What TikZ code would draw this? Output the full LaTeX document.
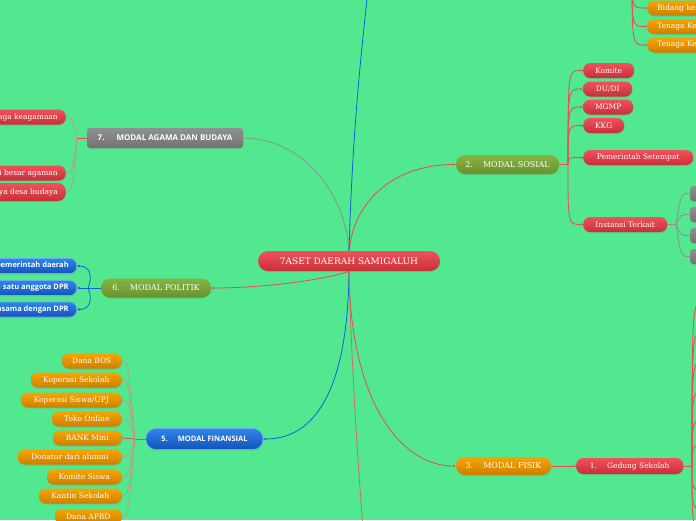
\documentclass[tikz,border=0pt]{standalone}
\usepackage{fontspec}
\setmainfont{DejaVu Serif}
\newfontfamily\osans{Open Sans}
\usetikzlibrary{shadows,arrows.meta}
\definecolor{bg}{HTML}{52E88F}
\definecolor{redT}{HTML}{F2525A}
\definecolor{redB}{HTML}{C62F37}
\definecolor{orT}{HTML}{F7A400}
\definecolor{orB}{HTML}{CC7F00}
\definecolor{grT}{HTML}{88B445}
\definecolor{grB}{HTML}{66922C}
\definecolor{blT}{HTML}{2F86EA}
\definecolor{blB}{HTML}{1152BC}
\definecolor{gyT}{HTML}{909090}
\definecolor{gyB}{HTML}{727272}
\definecolor{lnRed}{HTML}{F04850}
\definecolor{lnBlue}{HTML}{1060E0}
\definecolor{lnGray}{HTML}{909090}
\definecolor{lnTan}{HTML}{C8967A}
\definecolor{lnMix}{HTML}{D46A62}
\tikzset{
  box/.style={rounded corners=7pt, minimum height=15pt, inner xsep=8pt, inner ysep=0pt,
    text=white, font=\fontsize{7.5}{9}\selectfont,
    drop shadow={opacity=0.25, shadow xshift=0.4pt, shadow yshift=-1pt}},
  bigbox/.style={box, rounded corners=9pt, minimum height=19pt, font=\fontsize{8}{10}\selectfont},
  redbox/.style={top color=redT, bottom color=redB},
  orbox/.style={top color=orT, bottom color=orB},
  grbox/.style={top color=grT, bottom color=grB},
  blbox/.style={top color=blT, bottom color=blB, draw=blT!70!white, line width=0.6pt},
  gybox/.style={top color=gyT, bottom color=gyB},
  sansb/.style={font=\osans\bfseries\fontsize{7.5}{9}\selectfont},
  redline/.style={draw=lnRed, line width=0.8pt},
  blueline/.style={draw=lnBlue, line width=0.8pt},
  grayline/.style={draw=lnGray, line width=0.8pt},
  tanline/.style={draw=lnTan, line width=0.7pt},
  tip/.style={-{Latex[length=2.5pt,width=2.5pt]}},
}
\begin{document}
\begin{tikzpicture}[x=1pt,y=-1pt]
\useasboundingbox (0,0) rectangle (696,520);
\fill[bg] (0,0) rectangle (696,520);
\begin{scope}
\clip (0,0) rectangle (696,520);

% ---------- central node
\node[bigbox, redbox, minimum width=182pt, minimum height=20pt, rounded corners=10pt, font=\fontsize{9}{11}\selectfont] (c) at (349,261) {7ASET DAERAH SAMIGALUH};

% ---------- main branches
\node[bigbox, grbox, minimum width=103pt] (m2) at (507.5,164.5) {2.\hspace{10pt}MODAL SOSIAL};
\node[bigbox, orbox, minimum width=95pt, minimum height=18pt] (m3) at (503.5,466) {3.\hspace{10pt}MODAL FISIK};
\node[bigbox, blbox, sansb, minimum width=117pt, minimum height=21pt, rounded corners=10pt] (m5) at (204.5,439) {5.\hspace{10pt}MODAL FINANSIAL};
\node[bigbox, grbox, minimum width=110pt] (m6) at (156,288) {6.\hspace{10pt}MODAL POLITIK};
\node[bigbox, gybox, sansb, font=\osans\bfseries\fontsize{8}{10}\selectfont, minimum width=156pt, minimum height=20pt, rounded corners=3pt] (m7) at (165,138) {7.\hspace{12pt}MODAL AGAMA DAN BUDAYA};

% ---------- MODAL SOSIAL children
\node[box, redbox, anchor=west, minimum width=51pt] (s1) at (583,70.5) {Komite};
\node[box, redbox, anchor=west, minimum width=49pt] (s2) at (583,89) {DU/DI};
\node[box, redbox, anchor=west, minimum width=50pt] (s3) at (583,107) {MGMP};
\node[box, redbox, anchor=west, minimum width=41pt] (s4) at (583,125.5) {KKG};
\node[box, redbox, anchor=west, minimum width=110pt] (s5) at (583,157.5) {Pemerintah Setempat};
\node[box, redbox, anchor=west, minimum width=84pt] (s6) at (583,224.5) {Instansi Terkait};

% ---------- top right orange
\node[box, orbox, anchor=west, inner xsep=10pt] (t1) at (647,8) {Bidang kesehatan};
\node[box, orbox, anchor=west, inner xsep=10pt] (t2) at (647,26.5) {Tenaga Kesehatan};
\node[box, orbox, anchor=west, inner xsep=10pt] (t3) at (647,45) {Tenaga Kerja};

% ---------- Instansi Terkait gray children
\node[box, gybox, anchor=west, minimum width=30pt, rounded corners=3pt] (g1) at (690,193.5) {};
\node[box, gybox, anchor=west, minimum width=30pt, rounded corners=3pt] (g2) at (690,214.5) {};
\node[box, gybox, anchor=west, minimum width=30pt, rounded corners=3pt] (g3) at (690,235.5) {};
\node[box, gybox, anchor=west, minimum width=30pt, rounded corners=3pt] (g4) at (690,256.5) {};

% ---------- MODAL FISIK child
\node[box, redbox, anchor=west, minimum width=107pt, minimum height=16pt] (f1) at (576,466) {1.\hspace{10pt}Gedung Sekolah};

% ---------- MODAL FINANSIAL children
\node[box, orbox, anchor=east, minimum width=60pt] (k1) at (122,361) {Dana BOS};
\node[box, orbox, anchor=east, minimum width=91pt] (k2) at (122,380) {Koperasi Sekolah};
\node[box, orbox, anchor=east, minimum width=101pt] (k3) at (122,400) {Koperasi Siswa/UPJ};
\node[box, orbox, anchor=east, minimum width=70pt] (k4) at (122,419) {Toko Online};
\node[box, orbox, anchor=east, minimum width=69pt] (k5) at (122,438) {BANK Mini};
\node[box, orbox, anchor=east, minimum width=104pt] (k6) at (122,457) {Donatur dari alumni};
\node[box, orbox, anchor=east, minimum width=75pt] (k7) at (122,477) {Komite Siswa};
\node[box, orbox, anchor=east, minimum width=83pt] (k8) at (122,496) {Kantin Sekolah};
\node[box, orbox, anchor=east, minimum width=67pt] (k9) at (122,516.5) {Dana APBD};

% ---------- MODAL POLITIK children
\node[box, blbox, sansb, anchor=east] (p1) at (77,266) {Dukungan pemerintah daerah};
\node[box, blbox, sansb, anchor=east] (p2) at (77,288) {Salah satu anggota DPR};
\node[box, blbox, sansb, anchor=east] (p3) at (77,309.5) {Kerjasama dengan DPR};

% ---------- MODAL AGAMA DAN BUDAYA children
\node[box, redbox, anchor=east] (a1) at (66,117) {Lembaga keagamaan};
\node[box, redbox, anchor=east] (a2) at (66,173) {Hari besar agaman};
\node[box, redbox, anchor=east, minimum height=18pt, rounded corners=8pt] (a3) at (66,192) {Adanya desa budaya};

% ---------- coordinates
\coordinate (topB) at (368,-10);
\coordinate (botR) at (363,530);
\coordinate (j2) at (568,164.5);
\coordinate (jt) at (632,-30);
\coordinate (jg) at (676,224.5);
\coordinate (jf) at (692,466);
\coordinate (j5) at (135,439);
\coordinate (j6) at (88,288);
\coordinate (j7) at (77,138);

% ---------- connectors from centre
\draw[grayline] (m7.east) .. controls (300,138) and (345,190) .. (c.north);
\draw[redline, tip] (c.north) .. controls (355,195) and (400,164.5) .. (m2.west);
\draw[blueline] (c.north) .. controls (352,150) and (358,80) .. (topB);
\draw[redline, tip] (c.south) .. controls (320,281) and (260,288) .. (m6.east);
\draw[blueline, tip] (c.south) .. controls (348,380) and (320,439) .. (m5.east);
\draw[redline, tip] (c.south) .. controls (350,400) and (400,466) .. (m3.west);
\draw[draw=lnMix, line width=0.8pt] (c.south) .. controls (352,380) and (358,460) .. (botR);

% ---------- MODAL SOSIAL branch
\draw[redline] (m2.east) -- (j2);
\foreach \n/\y in {s1/70.5,s2/89,s3/107,s4/125.5,s5/157.5,s6/224.5}
  \draw[redline, tip] (j2) .. controls (568,\y) .. (\n.west);
\foreach \n/\y in {t1/8,t2/26.5,t3/45}
  \draw[redline, tip] (jt) .. controls (632,\y) .. (\n.west);
\draw[grayline] (s6.east) -- (jg);
\foreach \n/\y in {g1/193.5,g2/214.5,g3/235.5,g4/256.5}
  \draw[grayline] (jg) .. controls (681,\y) .. (\n.west);

% ---------- MODAL FISIK branch
\draw[redline, tip] (m3.east) -- (f1.west);
\draw[redline] (f1.east) -- (jf);
\foreach \y in {300,330,360,390,420,445,490,510,530}
  \draw[redline] (jf) .. controls (692,\y) .. (706,\y);

% ---------- MODAL FINANSIAL branch
\draw[redline] (m5.west) -- (j5);
\foreach \n/\y in {k1/361,k2/380,k3/400,k4/419,k6/457,k7/477,k8/496,k9/516.5}
  \draw[tanline] (j5) .. controls (128,\y) .. (\n.east);
\draw[redline] (j5) -- (k5.east);

% ---------- MODAL POLITIK branch
\draw[blueline, tip] (m6.west) -- (p2.east);
\draw[blueline, tip] (j6) .. controls (93,276) and (90,266) .. (p1.east);
\draw[blueline, tip] (j6) .. controls (93,300) and (90,309.5) .. (p3.east);

% ---------- MODAL AGAMA branch
\draw[redline] (m7.west) -- (j7);
\foreach \n/\y in {a1/117,a2/173,a3/192}
  \draw[tanline] (j7) .. controls (72,\y) .. (\n.east);

\end{scope}
\end{tikzpicture}
\end{document}
